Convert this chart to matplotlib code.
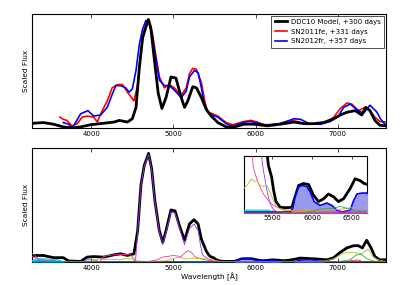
import matplotlib
matplotlib.use("Agg")
import matplotlib.pyplot as plt

plt.rcParams['font.family'] = ['DejaVu Sans']
plt.rcParams['font.size'] = 5.2

# ---------------- top panel data ----------------
model_top_wave = [3280, 3420, 3540, 3660, 3770, 3870, 3990, 4110, 4280, 4340, 4440, 4500, 4545, 4585,
                  4625, 4665, 4695, 4725, 4765, 4815, 4860, 4910, 4970, 5030, 5095, 5135, 5175, 5235,
                  5280, 5340, 5400, 5460, 5540, 5640, 5740, 5860, 5980, 6140, 6300, 6465, 6585, 6705,
                  6825, 6950, 7030, 7110, 7210, 7290, 7340, 7390, 7450, 7510, 7585]
model_top_flux = [0.043, 0.05, 0.035, 0.01, 0.0, 0.01, 0.03, 0.04, 0.055, 0.07, 0.055, 0.085, 0.19, 0.55,
                  0.83, 0.93, 1.0, 0.92, 0.65, 0.32, 0.18, 0.28, 0.47, 0.46, 0.28, 0.19, 0.25, 0.38,
                  0.37, 0.28, 0.17, 0.11, 0.05, 0.01, 0.01, 0.035, 0.035, 0.02, 0.035, 0.055, 0.04, 0.04,
                  0.05, 0.085, 0.12, 0.145, 0.16, 0.12, 0.19, 0.16, 0.07, 0.025, 0.02]

fe11_wave = [3620, 3660, 3705, 3765, 3830, 3890, 3950, 4030, 4075, 4115, 4195, 4255, 4320, 4380, 4440,
             4520, 4565, 4605, 4645, 4685, 4705, 4745, 4790, 4830, 4890, 4950, 5010, 5095, 5155, 5195,
             5235, 5280, 5340, 5380, 5415, 5540, 5640, 5720, 5860, 5940, 6020, 6100, 6260, 6425, 6505,
             6625, 6750, 6870, 6950, 7030, 7110, 7170, 7250, 7330, 7390, 7450, 7510, 7585]
fe11_flux = [0.10, 0.08, 0.07, 0.02, 0.04, 0.10, 0.11, 0.10, 0.055, 0.13, 0.25, 0.37, 0.40, 0.40, 0.33,
             0.25, 0.40, 0.71, 0.90, 0.98, 0.99, 0.87, 0.65, 0.47, 0.37, 0.40, 0.37, 0.30, 0.37, 0.50,
             0.55, 0.54, 0.42, 0.25, 0.15, 0.11, 0.05, 0.03, 0.06, 0.07, 0.055, 0.03, 0.035, 0.07, 0.06,
             0.035, 0.035, 0.055, 0.10, 0.18, 0.23, 0.22, 0.16, 0.19, 0.16, 0.10, 0.06, 0.055]

fr12_wave = [3660, 3725, 3770, 3810, 3870, 3960, 4030, 4115, 4195, 4255, 4300, 4360, 4420, 4460, 4500,
             4545, 4585, 4625, 4665, 4705, 4745, 4790, 4830, 4890, 4950, 5010, 5095, 5155, 5195, 5255,
             5300, 5340, 5375, 5435, 5540, 5640, 5720, 5860, 5940, 6020, 6140, 6300, 6465, 6545, 6665,
             6790, 6910, 7010, 7070, 7150, 7230, 7310, 7390, 7470, 7530, 7585]
fr12_flux = [0.05, 0.035, 0.0, 0.05, 0.13, 0.16, 0.11, 0.12, 0.19, 0.31, 0.39, 0.39, 0.37, 0.33, 0.36,
             0.53, 0.77, 0.91, 0.99, 0.97, 0.84, 0.62, 0.44, 0.39, 0.39, 0.35, 0.28, 0.34, 0.47, 0.53,
             0.51, 0.37, 0.22, 0.13, 0.10, 0.04, 0.015, 0.055, 0.06, 0.045, 0.025, 0.04, 0.085, 0.08, 0.035,
             0.035, 0.06, 0.115, 0.19, 0.22, 0.17, 0.135, 0.21, 0.15, 0.07, 0.025]

# ---------------- bottom panel data ----------------
model_bot_wave = [3280, 3420, 3540, 3660, 3725, 3870, 3950, 4030, 4155, 4275, 4360, 4440, 4520, 4565,
                  4605, 4645, 4698, 4735, 4775, 4828, 4870, 4910, 4970, 5020, 5075, 5135, 5195, 5250,
                  5300, 5340, 5400, 5430, 5450, 5490, 5515, 5545, 5600, 5680, 5745, 5785, 5830, 5890,
                  5955, 6015, 6080, 6145, 6205, 6270, 6330, 6395, 6480, 6540, 6605, 6655, 6700, 6870,
                  6950, 7030, 7110, 7190, 7250, 7298, 7350, 7400, 7450, 7510, 7585]
model_bot_flux = [0.06, 0.06, 0.04, 0.04, 0.01, 0.005, 0.045, 0.05, 0.045, 0.066, 0.075, 0.06, 0.075, 0.29,
                  0.71, 0.89, 1.0, 0.86, 0.56, 0.29, 0.18, 0.29, 0.48, 0.47, 0.33, 0.20, 0.35, 0.39,
                  0.35, 0.21, 0.10, 0.065, 0.05, 0.038, 0.024, 0.012, 0.006, 0.0056, 0.006, 0.017, 0.029, 0.031,
                  0.030, 0.019, 0.012, 0.015, 0.020, 0.017, 0.012, 0.015, 0.026, 0.036, 0.034, 0.031, 0.03, 0.02,
                  0.04, 0.09, 0.13, 0.15, 0.15, 0.13, 0.20, 0.135, 0.05, 0.02, 0.02]

purple_wave = [3280, 3330, 3380, 3900, 3950, 4050, 4100, 4500, 4540, 4565, 4605, 4645, 4698, 4735, 4775,
               4828, 4870, 4910, 4970, 5020, 5075, 5135, 5195, 5250, 5300, 5330, 5355, 5387, 5430, 5470,
               5515, 5560, 5700, 7585]
purple_flux = [0.08, 0.05, 0.0, 0.0, 0.02, 0.02, 0.0, 0.0, 0.02, 0.28, 0.70, 0.88, 0.99, 0.85, 0.55,
               0.28, 0.16, 0.27, 0.46, 0.45, 0.31, 0.16, 0.31, 0.35, 0.29, 0.15, 0.065, 0.045, 0.024, 0.01,
               0.0035, 0.0015, 0.0, 0.0]

pink_wave = [3280, 3350, 3450, 3700, 4100, 4150, 4250, 4400, 4480, 4530, 4570, 4700, 4800, 4870, 5000,
             5090, 5150, 5176, 5215, 5240, 5260, 5303, 5345, 5387, 5450, 5513, 5597, 5680, 6000, 7100,
             7200, 7585]
pink_flux = [0.05, 0.03, 0.01, 0.0, 0.0, 0.05, 0.065, 0.07, 0.065, 0.02, 0.0, 0.005, 0.02, 0.045, 0.06,
             0.05, 0.09, 0.105, 0.09, 0.07, 0.048, 0.036, 0.027, 0.02, 0.013, 0.008, 0.0046, 0.003, 0.002, 0.002,
             0.0, 0.0]

yellow_wave = [3280, 3900, 4000, 4100, 4250, 4350, 4400, 4500, 4550, 4700, 4900, 5000, 5050, 5100, 5143,
               5197, 5240, 5270, 5303, 5345, 5387, 5429, 5471, 5513, 5555, 5640, 5800, 5950, 6100, 6350,
               6480, 6560, 6700, 6850, 6950, 7060, 7180, 7240, 7300, 7366, 7426, 7487, 7585]
yellow_flux = [0.0, 0.0, 0.01, 0.025, 0.025, 0.02, 0.03, 0.03, 0.01, 0.005, 0.01, 0.03, 0.045, 0.04, 0.026,
               0.031, 0.036, 0.033, 0.034, 0.029, 0.028, 0.029, 0.022, 0.013, 0.006, 0.003, 0.002, 0.003, 0.003, 0.004,
               0.0056, 0.006, 0.006, 0.01, 0.03, 0.08, 0.09, 0.08, 0.08, 0.12, 0.05, 0.02, 0.005]

green_wave = [3280, 5900, 6000, 6100, 6270, 6350, 6480, 6600, 7000, 7145, 7224, 7285, 7345, 7420, 7585]
green_flux = [0.0, 0.0, 0.002, 0.004, 0.005, 0.007, 0.004, 0.002, 0.002, 0.02, 0.065, 0.07, 0.035, 0.01, 0.0]

blue_wave = [3280, 5723, 5756, 5786, 5828, 5870, 5933, 5975, 6025, 6101, 6185, 6248, 6311, 6374, 6479,
             6521, 6563, 6626, 6689, 6750, 6850, 7585]
blue_flux = [0.0, 0.001, 0.0046, 0.017, 0.027, 0.029, 0.028, 0.022, 0.012, 0.008, 0.0105, 0.008, 0.003, 0.001, 0.003,
             0.013, 0.020, 0.021, 0.021, 0.01, 0.002, 0.001]

cyan_wave = [3280, 3320, 3400, 3500, 3600, 3650, 3700, 5100, 5143, 5300, 5450, 5500, 7585]
cyan_flux = [0.01, 0.025, 0.03, 0.025, 0.02, 0.005, 0.001, 0.001, 0.003, 0.003, 0.003, 0.001, 0.0]

red_wave = [3280, 7100, 7170, 7250, 7300, 7585]
red_flux = [0.0, 0.0, 0.015, 0.018, 0.003, 0.0]

labels = ["DDC10 Model, +300 days", "SN2011fe, +331 days", "SN2012fr, +357 days"]
xticks_main = [4000, 5000, 6000, 7000]
xticks_inset = [5500, 6000, 6500]

W, H = 407, 285
fig = plt.figure(figsize=(W / 100, H / 100), dpi=100)
ax1 = fig.add_axes([32 / W, 1 - 128 / H, 354 / W, 114 / H])
ax2 = fig.add_axes([32 / W, 1 - 262 / H, 354 / W, 114 / H])
axi = fig.add_axes([244 / W, 1 - 213 / H, 123 / W, 57 / H])

# top panel
ax1.plot(model_top_wave, model_top_flux, color='black', lw=2.0, label=labels[0], zorder=3)
ax1.plot(fe11_wave, fe11_flux, color='red', lw=1.2, label=labels[1], zorder=2)
ax1.plot(fr12_wave, fr12_flux, color='blue', lw=1.2, label=labels[2], zorder=2)
leg = ax1.legend(loc='upper right', fontsize=5.0, frameon=True, fancybox=False,
                 handlelength=1.8, handletextpad=0.6, borderpad=0.45, labelspacing=0.55,
                 borderaxespad=0.25)
leg.get_frame().set_edgecolor('black')
leg.get_frame().set_linewidth(0.6)


def draw_components(ax, lw_scale=1.0):
    ax.plot(model_bot_wave, model_bot_flux, color='black', lw=2.0 * lw_scale, zorder=2)
    ax.fill_between(cyan_wave, 0, cyan_flux, color='#00ccee', lw=0, zorder=3)
    ax.plot(cyan_wave, cyan_flux, color='#00ccee', lw=0.8, zorder=3)
    ax.fill_between(blue_wave, 0, blue_flux, color='#9999ee', lw=0, zorder=3)
    ax.plot(blue_wave, blue_flux, color='blue', lw=1.2 * lw_scale, zorder=4)
    ax.plot(purple_wave, purple_flux, color='#9933ee', lw=0.6, zorder=4)
    ax.plot(pink_wave, pink_flux, color='#ff3399', lw=0.6, zorder=4)
    ax.plot(yellow_wave, yellow_flux, color='#bbbb22', lw=0.6, zorder=4)
    ax.plot(green_wave, green_flux, color='#33aa33', lw=0.6, zorder=4)
    ax.plot(red_wave, red_flux, color='#dd2244', lw=0.6, zorder=4)


draw_components(ax2)
draw_components(axi, lw_scale=1.0)

for ax in (ax1, ax2):
    ax.set_xlim(3280, 7585)
    ax.set_ylim(0, 1.05)
    ax.set_xticks(xticks_main)
    ax.set_yticks([])
    ax.set_ylabel("Scaled Flux", fontsize=5.3, labelpad=2.5)
    ax.tick_params(axis='x', direction='in', top=True, length=3, width=0.5, labelsize=5.0, pad=1.8)
    for s in ax.spines.values():
        s.set_linewidth(0.8)
ax2.set_xlabel("Wavelength [Å]", fontsize=5.3, labelpad=1.5)

axi.set_xlim(5143, 6690)
axi.set_ylim(0, 0.06)
axi.set_xticks(xticks_inset)
axi.set_yticks([])
axi.tick_params(axis='x', direction='in', top=True, length=2.5, width=0.5, labelsize=5.0, pad=1.8)
for s in axi.spines.values():
    s.set_linewidth(0.8)

fig.savefig("out.png", dpi=100)
